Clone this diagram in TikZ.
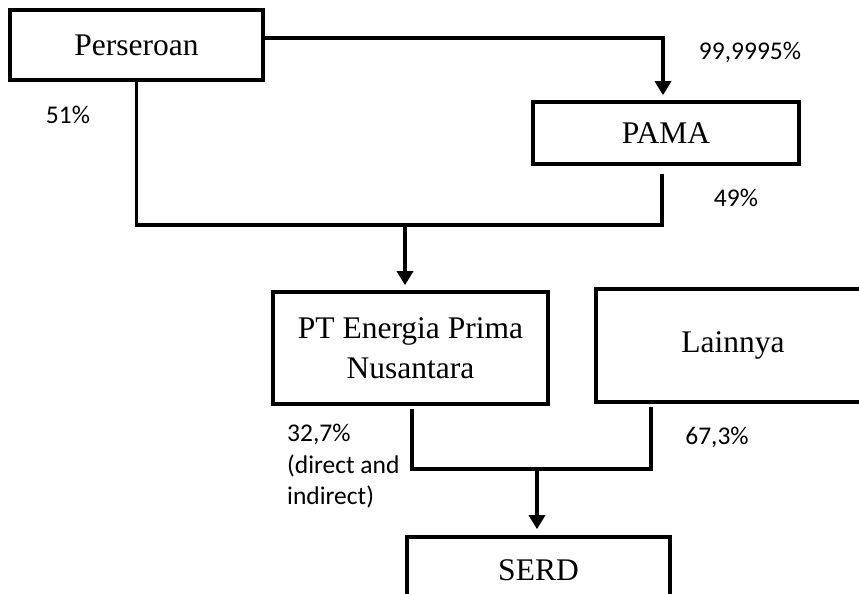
\documentclass[tikz,border=0pt]{standalone}
\usepackage{fontspec}
\setmainfont{Liberation Serif}
\newfontfamily\labfont{Carlito}
\usetikzlibrary{arrows.meta}
\begin{document}
\begin{tikzpicture}[x=1pt,y=-1pt,
  boxnode/.style={draw,line width=3.6pt,rectangle,inner sep=0pt,align=center,
    font=\fontsize{31.5}{40}\selectfont},
  conn/.style={line width=3.4pt},
  arr/.style={line width=3.4pt,-{Triangle[width=16pt,length=14pt]}},
  lab/.style={inner sep=0pt,align=left,font=\labfont\fontsize{25.5}{31.5}\selectfont}]
\clip (0,0) rectangle (859,594);
\useasboundingbox (0,0) rectangle (859,594);
\fill[white] (0,0) rectangle (859,594);

\node[boxnode,minimum width=253pt,minimum height=70pt] (pers) at (136.5,45) {Perseroan};
\node[boxnode,minimum width=266pt,minimum height=62pt] (pama) at (666,133) {PAMA};
\node[boxnode,minimum width=275pt,minimum height=112pt] (ptep) at (410.5,348) {PT Energia Prima\\Nusantara};
\node[boxnode,minimum width=274pt,minimum height=113pt] (lain) at (733,345.5) {Lainnya};
\node[boxnode,minimum width=263pt,minimum height=66pt] (serd) at (538.5,570) {SERD};

\node[lab] (l51) at (68,115) {51\%};
\node[lab] (l99) at (750,52) {99,9995\%};
\node[lab] (l49) at (736,198) {49\%};
\node[lab,anchor=north west] (l32) at (287,424) {32,7\%\\(direct and\\indirect)};
\node[lab] (l67) at (717,437) {67,3\%};

\coordinate (j1) at (663,38);
\coordinate (j2) at (662,225);
\coordinate (j3) at (405,225);
\coordinate (j4) at (412,469);
\coordinate (j5) at (651,469);
\coordinate (j6) at (537,469);

\draw[arr,shorten >=5pt] (pers.east |- j1) -- (j1) -- (j1 |- pama.north);
\draw[conn,shorten >=8pt] (pers.south) |- (j2) -- (j2 |- pama.south);
\draw[arr,shorten >=5pt] (j3) -- (j3 |- ptep.north);
\draw[conn,shorten <=3pt,shorten >=3pt] (j4 |- ptep.south) -- (j4) -- (j5) -- (j5 |- lain.south);
\draw[arr,shorten >=6pt] (j6) -- (j6 |- serd.north);
\end{tikzpicture}
\end{document}
